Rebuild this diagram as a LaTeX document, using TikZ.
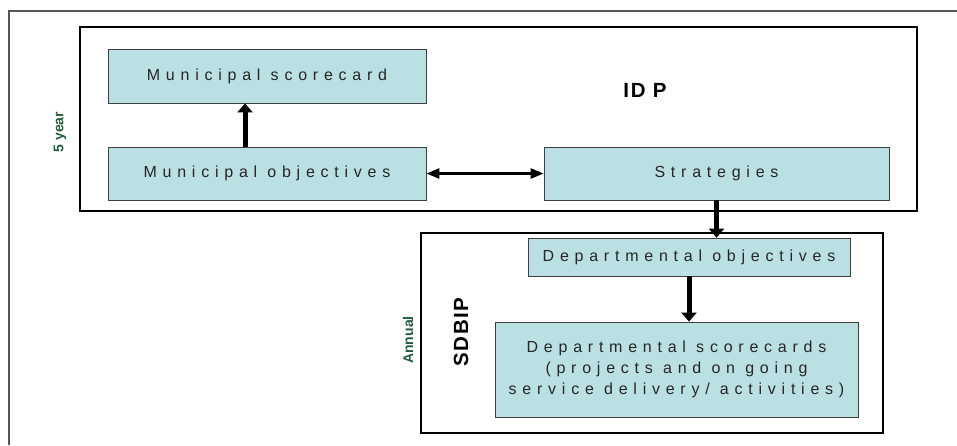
\documentclass[tikz,border=0pt]{standalone}
\usepackage{fontspec}
\setmainfont{Liberation Sans}
\newfontfamily\boxfont[LetterSpace=36]{Liberation Sans}
\newfontfamily\headfont[LetterSpace=8]{Liberation Sans}
\usetikzlibrary{arrows.meta}
\definecolor{boxfill}{HTML}{BAE0E3}
\definecolor{framegray}{HTML}{555555}
\definecolor{labelgreen}{HTML}{235F3C}
\tikzset{
  cbox/.style={draw=black!75, fill=boxfill, line width=0.8pt, inner sep=0pt,
    font=\boxfont\fontsize{16}{21}\selectfont, text=black!85, align=center},
  groupbox/.style={draw=black, line width=1.4pt},
  bigarrow/.style={line width=5pt, -{Triangle[length=9pt,width=15pt]}},
  twoway/.style={line width=2.6pt, {Triangle[length=13pt,width=10pt]}-{Triangle[length=13pt,width=10pt]}},
  period/.style={text=labelgreen, font=\bfseries\fontsize{14}{16}\selectfont, rotate=90},
  grouplabel/.style={font=\headfont\bfseries\fontsize{20.5}{24}\selectfont}
}
\begin{document}
\begin{tikzpicture}[x=1pt,y=-1pt]
  \useasboundingbox (0,0) rectangle (957,445);
  % outer frame
  \draw[framegray, line width=2pt] (9,445) -- (9,11) -- (957,11);
  % group boxes
  \draw[groupbox] (80,27) rectangle (917,211);
  \draw[groupbox] (421,233) rectangle (883,433);
  % boxes
  \node[cbox, minimum width=318pt, minimum height=54pt] (msc) at (267,76) {Municipal scorecard};
  \node[cbox, minimum width=318pt, minimum height=53pt] (mobj) at (267,173.5) {Municipal objectives};
  \node[cbox, minimum width=345pt, minimum height=53pt] (strat) at (716.5,173.5) {Strategies};
  \node[cbox, minimum width=322pt, minimum height=38pt] (dobj) at (689,257) {Departmental objectives};
  \node[cbox, minimum width=363pt, minimum height=95pt] (dsc) at (676.5,369.5)
    {Departmental scorecards\\(projects and on going\\service delivery/ activities)};
  % labels
  \node[grouplabel] (idp) at (645,90) {ID P};
  \node[grouplabel, rotate=90] (sdbip) at (461,332) {SDBIP};
  \node[period] (fiveyear) at (60,132) {5 year};
  \node[period] (annual) at (408,340) {Annual};
  % connectors
  \draw[bigarrow] ([xshift=-22pt]mobj.north) -- ([xshift=-22pt]msc.south);
  \draw[twoway] (mobj.east) -- (strat.west);
  \draw[bigarrow] (strat.south) -- (strat.south |- dobj.north);
  \draw[bigarrow] (dobj.south) -- (dobj.south |- dsc.north);
\end{tikzpicture}
\end{document}
